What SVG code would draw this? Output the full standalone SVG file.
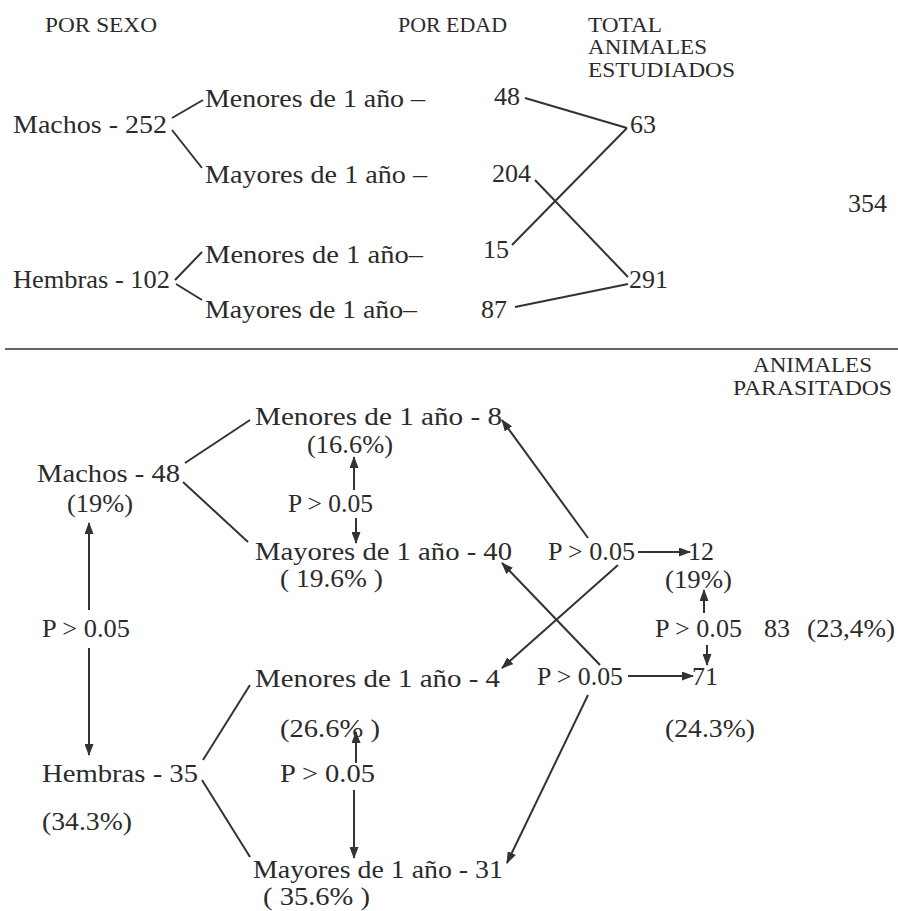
<svg xmlns="http://www.w3.org/2000/svg" width="898" height="911" viewBox="0 0 898 911">
<style>
text{font-family:"Liberation Serif","Times New Roman",serif;fill:#2b2b2b;}
.h{font-size:20px;}
.b{font-size:26px;}
.ln{stroke:#333;stroke-width:2;fill:none;}
.ar{stroke:#333;stroke-width:2;fill:none;marker-end:url(#ah);}
.rule{stroke:#666;stroke-width:2;}
</style>
<defs>
<marker id="ah" markerUnits="userSpaceOnUse" markerWidth="12" markerHeight="9" refX="11" refY="4.5" orient="auto">
<path d="M0,0 L12,4.5 L0,9 z" fill="#333"/>
</marker>
</defs>
<rect width="898" height="911" fill="#ffffff"/>
<g id="headers">
<text class="h" x="45" y="32" textLength="112" lengthAdjust="spacingAndGlyphs">POR SEXO</text>
<text class="h" x="398" y="32" textLength="109" lengthAdjust="spacingAndGlyphs">POR EDAD</text>
<text class="h" x="588" y="32" textLength="74" lengthAdjust="spacingAndGlyphs">TOTAL</text>
<text class="h" x="588" y="54" textLength="119" lengthAdjust="spacingAndGlyphs">ANIMALES</text>
<text class="h" x="588" y="77" textLength="147" lengthAdjust="spacingAndGlyphs">ESTUDIADOS</text>
<text class="h" x="753" y="372" textLength="119" lengthAdjust="spacingAndGlyphs">ANIMALES</text>
<text class="h" x="733" y="395" textLength="159" lengthAdjust="spacingAndGlyphs">PARASITADOS</text>
</g>
<g id="n-machos-252"><text class="b" x="13" y="133" textLength="154" lengthAdjust="spacingAndGlyphs">Machos - 252</text></g>
<g id="n-m-menores"><text class="b" x="205" y="107" textLength="220" lengthAdjust="spacingAndGlyphs">Menores de 1 año –</text></g>
<g id="n-m-mayores"><text class="b" x="205" y="183" textLength="222" lengthAdjust="spacingAndGlyphs">Mayores de 1 año –</text></g>
<g id="n-hembras-102"><text class="b" x="13" y="288" textLength="157" lengthAdjust="spacingAndGlyphs">Hembras - 102</text></g>
<g id="n-h-menores"><text class="b" x="205" y="263" textLength="218" lengthAdjust="spacingAndGlyphs">Menores de 1 año–</text></g>
<g id="n-h-mayores"><text class="b" x="205" y="318" textLength="212" lengthAdjust="spacingAndGlyphs">Mayores de 1 año–</text></g>
<g id="n-48"><text class="b" x="494" y="105">48</text></g>
<g id="n-204"><text class="b" x="492" y="182">204</text></g>
<g id="n-15"><text class="b" x="483" y="258">15</text></g>
<g id="n-87"><text class="b" x="481" y="318">87</text></g>
<g id="n-63"><text class="b" x="630" y="133">63</text></g>
<g id="n-291"><text class="b" x="629" y="288">291</text></g>
<g id="n-354"><text class="b" x="848" y="212">354</text></g>

<g id="p-m-menores">
<text class="b" x="255" y="425" textLength="247" lengthAdjust="spacingAndGlyphs">Menores de 1 año - 8</text>
<text class="b" x="307" y="453" textLength="86" lengthAdjust="spacingAndGlyphs">(16.6%)</text>
</g>
<g id="p-machos">
<text class="b" x="37" y="482" textLength="143" lengthAdjust="spacingAndGlyphs">Machos - 48</text>
<text class="b" x="67" y="512" textLength="66" lengthAdjust="spacingAndGlyphs">(19%)</text>
</g>
<g id="p1"><text class="b" x="288" y="512" textLength="85" lengthAdjust="spacingAndGlyphs">P &gt; 0.05</text></g>
<g id="p-m-mayores">
<text class="b" x="255" y="560" textLength="257" lengthAdjust="spacingAndGlyphs">Mayores de 1 año - 40</text>
<text class="b" x="280" y="587" textLength="103" lengthAdjust="spacingAndGlyphs">( 19.6% )</text>
</g>
<g id="p2"><text class="b" x="548" y="560" textLength="87" lengthAdjust="spacingAndGlyphs">P &gt; 0.05</text></g>
<g id="p-12">
<text class="b" x="688" y="560">12</text>
<text class="b" x="665" y="588" textLength="67" lengthAdjust="spacingAndGlyphs">(19%)</text>
</g>
<g id="p3"><text class="b" x="42" y="637" textLength="88" lengthAdjust="spacingAndGlyphs">P &gt; 0.05</text></g>
<g id="p4"><text class="b" x="655" y="637" textLength="87" lengthAdjust="spacingAndGlyphs">P &gt; 0.05</text></g>
<g id="p-total">
<text class="b" x="764" y="637">83</text>
<text class="b" x="807" y="637" textLength="88" lengthAdjust="spacingAndGlyphs">(23,4%)</text>
</g>
<g id="p-h-menores">
<text class="b" x="255" y="687" textLength="245" lengthAdjust="spacingAndGlyphs">Menores de 1 año - 4</text>
<text class="b" x="280" y="737" textLength="100" lengthAdjust="spacingAndGlyphs">(26.6% )</text>
</g>
<g id="p5"><text class="b" x="537" y="685" textLength="86" lengthAdjust="spacingAndGlyphs">P &gt; 0.05</text></g>
<g id="p-71">
<text class="b" x="692" y="685">71</text>
<text class="b" x="665" y="737" textLength="90" lengthAdjust="spacingAndGlyphs">(24.3%)</text>
</g>
<g id="p-hembras">
<text class="b" x="42" y="782" textLength="156" lengthAdjust="spacingAndGlyphs">Hembras - 35</text>
<text class="b" x="42" y="830" textLength="90" lengthAdjust="spacingAndGlyphs">(34.3%)</text>
</g>
<g id="p6"><text class="b" x="280" y="782" textLength="95" lengthAdjust="spacingAndGlyphs">P &gt;  0.05</text></g>
<g id="p-h-mayores">
<text class="b" x="253" y="878" textLength="250" lengthAdjust="spacingAndGlyphs">Mayores de 1 año - 31</text>
<text class="b" x="263" y="905" textLength="107" lengthAdjust="spacingAndGlyphs">( 35.6% )</text>
</g>

<g id="connectors">
<line class="ln" x1="172" y1="118" x2="203" y2="100"/>
<line class="ln" x1="172" y1="130" x2="202" y2="168"/>
<line class="ln" x1="175" y1="280" x2="202" y2="252"/>
<line class="ln" x1="176" y1="284" x2="202" y2="300"/>
<line class="ln" x1="525" y1="98" x2="627" y2="128"/>
<line class="ln" x1="627" y1="128" x2="512" y2="245"/>
<line class="ln" x1="535" y1="180" x2="628" y2="277"/>
<line class="ln" x1="515" y1="307" x2="628" y2="284"/>
<line class="rule" x1="5" y1="349" x2="898" y2="349"/>
<line class="ln" x1="185" y1="463" x2="250" y2="420"/>
<line class="ln" x1="183" y1="482" x2="248" y2="542"/>
<line class="ln" x1="203" y1="760" x2="250" y2="685"/>
<line class="ln" x1="202" y1="780" x2="250" y2="857"/>
<line class="ar" x1="354" y1="490" x2="354" y2="457"/>
<line class="ar" x1="356" y1="518" x2="356" y2="543"/>
<line class="ar" x1="89" y1="610" x2="89" y2="523"/>
<line class="ar" x1="89" y1="648" x2="89" y2="755"/>
<line class="ar" x1="588" y1="538" x2="502" y2="420"/>
<line class="ar" x1="638" y1="552" x2="690" y2="552"/>
<line class="ar" x1="618" y1="565" x2="502" y2="668"/>
<line class="ar" x1="600" y1="665" x2="502" y2="563"/>
<line class="ar" x1="628" y1="676" x2="693" y2="676"/>
<line class="ar" x1="588" y1="695" x2="507" y2="863"/>
<line class="ar" x1="704" y1="613" x2="704" y2="590"/>
<line class="ar" x1="707" y1="645" x2="707" y2="665"/>
<line class="ar" x1="356" y1="763" x2="356" y2="732"/>
<line class="ar" x1="354" y1="790" x2="354" y2="858"/>
</g>
</svg>
